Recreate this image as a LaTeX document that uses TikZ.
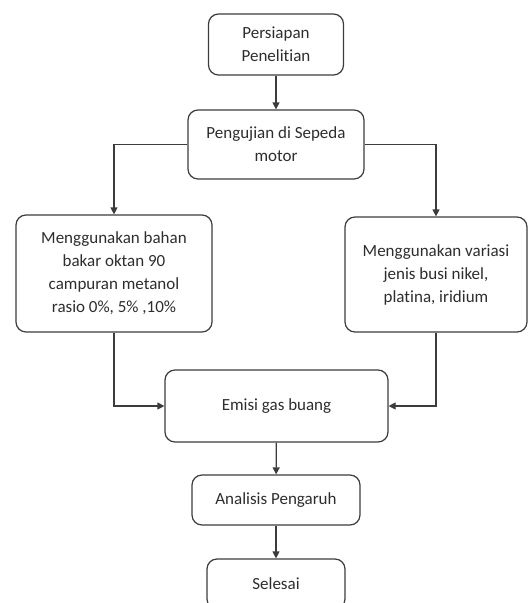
\documentclass[tikz,border=0pt]{standalone}
\usepackage{fontspec}
\setmainfont{Carlito}[Ligatures=NoCommon]
\usetikzlibrary{arrows.meta, positioning}
\definecolor{cline}{RGB}{60,60,60}
\definecolor{ctext}{RGB}{45,45,45}

\begin{document}
\begin{tikzpicture}[
    x=1pt, y=-1pt,
    >={Triangle[length=7pt, width=7pt]},
    every node/.style={font=\fontsize{17}{23}\selectfont, text=ctext},
    flowbox/.style={draw=cline, line width=1.2pt, rounded corners=10pt, align=center, inner sep=0pt},
    link/.style={->, draw=cline, line width=1.2pt},
]
    \useasboundingbox (0,0) rectangle (528,603);

    % Main column
    \node[flowbox, minimum width=135pt, minimum height=61pt] (persiapan) at (276, 44.5) {Persiapan\\Penelitian};
    \node[flowbox, minimum width=176pt, minimum height=69pt] (pengujian) at (276, 144.5) {Pengujian di Sepeda\\motor};

    % Two branches
    \node[flowbox, minimum width=196pt, minimum height=117pt] (bahan) at (114, 273.5) {Menggunakan bahan\\bakar oktan 90\\campuran metanol\\rasio 0\%, 5\% ,10\%};
    \node[flowbox, minimum width=182pt, minimum height=115pt] (busi) at (436, 274.5) {Menggunakan variasi\\jenis busi nikel,\\platina, iridium};

    % Result
    \node[flowbox, minimum width=223pt, minimum height=72pt] (emisi) at (276.5, 406) {Emisi gas buang};
    \node[flowbox, minimum width=168pt, minimum height=50pt] (analisis) at (276, 500) {Analisis Pengaruh};
    \node[flowbox, minimum width=138pt, minimum height=50pt] (selesai) at (276, 584) {Selesai};

    % Connectors
    \draw[link] (persiapan) -- (pengujian);
    \draw[link] (pengujian.west) -| (bahan.north);
    \draw[link] (pengujian.east) -| (busi.north);
    \draw[link] (bahan.south) |- (emisi.west);
    \draw[link] (busi.south) |- (emisi.east);
    \draw[link] (emisi) -- (analisis);
    \draw[link] (analisis) -- (selesai);
\end{tikzpicture}
\end{document}
